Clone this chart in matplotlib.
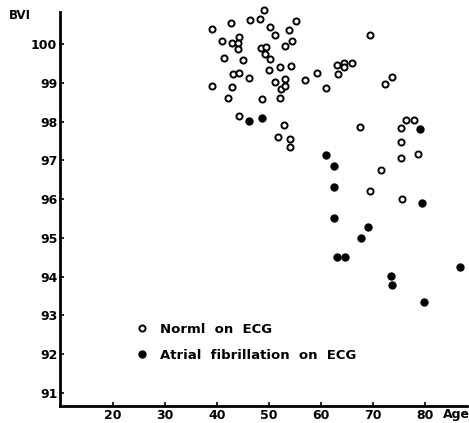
import matplotlib
matplotlib.use("Agg")
import matplotlib.pyplot as plt
import numpy as np

# normal ECG group: age, BVI
normal_age = [39.1, 42.6, 46.3, 48.2, 49.1, 50.1, 55.1, 53.9, 51.2, 40.9,
              42.9, 44.2, 44.1, 44.1, 48.5, 49.5, 49.2, 50.1, 53.0, 54.4,
              41.3, 45.0, 43.1, 44.2, 46.1, 50.0, 52.1, 54.3, 59.2, 56.9,
              61.0, 53.1, 51.2, 52.3, 53.1, 39.1, 42.9, 42.2, 48.7, 52.1,
              44.2, 52.8, 51.8, 54.1, 54.1, 63.1, 63.2, 64.4, 64.5, 65.9,
              67.4, 76.4, 77.8, 75.4, 75.4, 75.4, 78.7, 71.6, 69.5, 75.6,
              69.4, 72.3, 73.7]
normal_bvi = [100.40, 100.53, 100.61, 100.65, 100.87, 100.44, 100.59, 100.35, 100.24, 100.07,
              100.03, 100.17, 100.03, 99.88, 99.91, 99.92, 99.74, 99.62, 99.94, 100.09,
              99.65, 99.58, 99.23, 99.26, 99.12, 99.33, 99.41, 99.44, 99.25, 99.06,
              98.87, 99.11, 99.02, 98.85, 98.91, 98.92, 98.90, 98.61, 98.57, 98.61,
              98.15, 97.91, 97.60, 97.55, 97.35, 99.45, 99.22, 99.52, 99.41, 99.51,
              97.85, 98.04, 98.04, 97.83, 97.48, 97.07, 97.15, 96.74, 96.22, 96.01,
              100.24, 98.97, 99.15]

# atrial fibrillation group
af_age = [46.2, 48.7, 61.0, 62.4, 62.5, 79.0, 79.4, 62.4, 69.0, 67.6,
          63.1, 64.6, 73.4, 73.7, 79.8, 86.7]
af_bvi = [98.02, 98.08, 97.13, 96.86, 96.30, 97.81, 95.89, 95.50, 95.27, 95.00,
          94.50, 94.50, 94.02, 93.79, 93.35, 94.24]

xticks = [20, 30, 40, 50, 60, 70, 80]
yticks = [91, 92, 93, 94, 95, 96, 97, 98, 99, 100]

fig = plt.figure(figsize=(4.69, 4.23), dpi=100)
ax = fig.add_axes([0.128, 0.040, 0.868, 0.932])

ax.plot(normal_age, normal_bvi, 'o', ms=4.4, mfc='white', mec='black', mew=1.4,
        ls='none', label='Norml  on  ECG', clip_on=False)
ax.plot(af_age, af_bvi, 'o', ms=5, mfc='black', mec='black',
        ls='none', label='Atrial  fibrillation  on  ECG', clip_on=False)

ax.set_xlim(9.8, 88.1)
ax.set_ylim(90.66, 100.83)
ax.set_xticks(xticks)
ax.set_yticks(yticks)

for side in ['top', 'right']:
    ax.spines[side].set_visible(False)
for side in ['left', 'bottom']:
    ax.spines[side].set_linewidth(2)
ax.tick_params(direction='in', length=3, width=1.2, labelsize=9, pad=2)
for lab in ax.get_xticklabels() + ax.get_yticklabels():
    lab.set_fontweight('bold')

fig.text(0.018, 0.963, 'BVI', fontsize=8.5, fontweight='bold', ha='left', va='center')
fig.text(0.944, 0.020, 'Age', fontsize=9, fontweight='bold', ha='left', va='center')

leg = ax.legend(loc='upper left', bbox_to_anchor=(0.175, 0.228), frameon=False,
                handlelength=0.6, handletextpad=1.1, labelspacing=1.0,
                prop={'weight': 'bold', 'size': 9.5}, borderpad=0)

fig.savefig('out.png', dpi=100)
